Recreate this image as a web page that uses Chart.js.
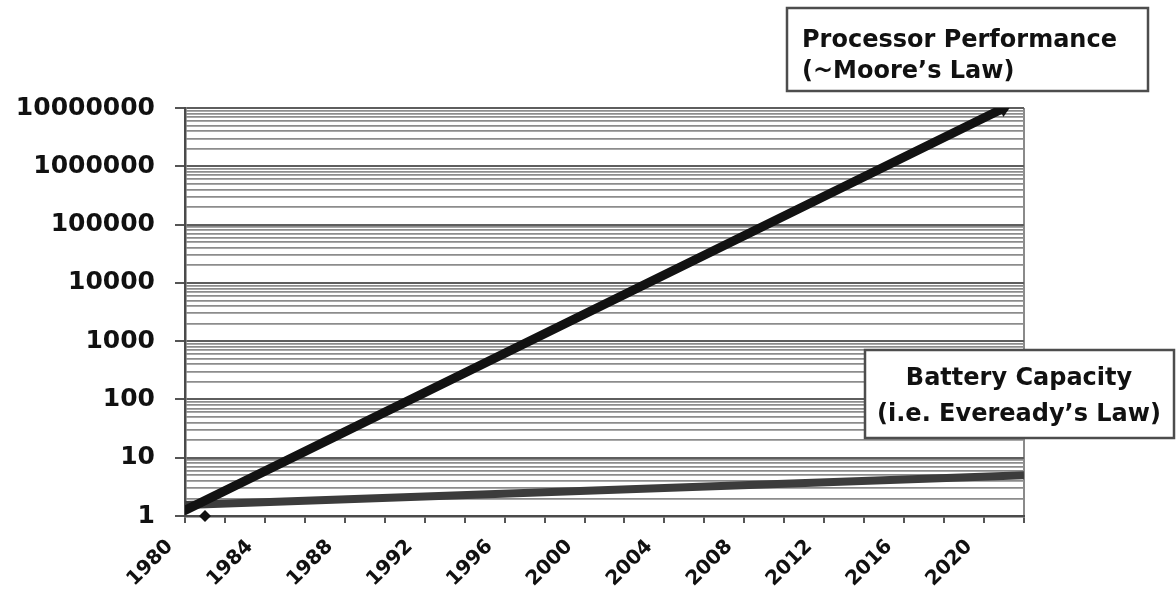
<!DOCTYPE html>
<html>
<head>
<meta charset="utf-8">
<script src="https://cdn.jsdelivr.net/npm/chart.js@4.4.1/dist/chart.umd.min.js"></script>
<style>
  html, body { margin: 0; padding: 0; background: #ffffff; }
  canvas { display: block; }
</style>
</head>
<body>
<canvas id="chart" width="1176" height="594"></canvas>
<script>
// Processor performance (~Moore's Law), relative to 1980
const processorYears = [1980, 2021];
const processorPerformance = [1.25, 1.0e7];

// Battery capacity (i.e. Eveready's Law), relative to 1980
const batteryYears = [1980, 2022];
const batteryCapacity = [1.55, 5.0];

// Single battery reference marker
const batteryMarkerYears = [1981];
const batteryMarkerValues = [1];

// Axis ticks and labels
const yearTicks = [1980, 1982, 1984, 1986, 1988, 1990, 1992, 1994, 1996, 1998, 2000,
                   2002, 2004, 2006, 2008, 2010, 2012, 2014, 2016, 2018, 2020, 2022];
const yearLabels = [1980, 1984, 1988, 1992, 1996, 2000, 2004, 2008, 2012, 2016, 2020];
const decadeLabels = ['1', '10', '100', '1000', '10000', '100000', '1000000', '10000000'];
const gridMultiples = [1, 2, 3, 4, 5, 6, 7, 8, 9];

// Callout texts
const processorNote = ['Processor Performance', '(~Moore\u2019s Law)'];
const batteryNote = ['Battery Capacity', '(i.e. Eveready\u2019s Law)'];

const decadeValues = decadeLabels.map(Number);
const yGridValues = [];
decadeValues.forEach((d, i) => {
  if (i === decadeValues.length - 1) { yGridValues.push(d); return; }
  gridMultiples.forEach(m => yGridValues.push(m * d));
});

const FONT = "'DejaVu Sans', 'Liberation Sans', sans-serif";
const isDecade = v => decadeValues.includes(v);

// Boxed callouts drawn over the plot
const calloutPlugin = {
  id: 'callouts',
  afterDraw(chart) {
    const ctx = chart.ctx;
    const drawBox = (box, lines, align, tx, baselines) => {
      ctx.save();
      ctx.fillStyle = '#ffffff';
      ctx.fillRect(box.x, box.y, box.w, box.h);
      ctx.strokeStyle = '#4d4d4d';
      ctx.lineWidth = 2.5;
      ctx.strokeRect(box.x, box.y, box.w, box.h);
      ctx.fillStyle = '#111111';
      ctx.font = 'bold 24px ' + FONT;
      ctx.textAlign = align;
      ctx.textBaseline = 'alphabetic';
      lines.forEach((t, i) => ctx.fillText(t, tx, baselines[i]));
      ctx.restore();
    };
    drawBox({x: 787, y: 8, w: 361, h: 83}, processorNote, 'left', 802, [47, 78]);
    drawBox({x: 865, y: 350, w: 309, h: 88}, batteryNote, 'center', 1019, [385, 421]);
  }
};

const pts = (xs, ys) => xs.map((x, i) => ({x, y: ys[i]}));

new Chart(document.getElementById('chart'), {
  type: 'line',
  data: {
    datasets: [
      {
        label: processorNote.join(' '),
        data: pts(processorYears, processorPerformance),
        borderColor: '#121212',
        backgroundColor: '#121212',
        borderWidth: 9,
        borderCapStyle: 'round',
        pointRadius: [0, 9],
        pointStyle: 'triangle',
        pointRotation: [0, 64],
        pointBorderWidth: 0,
        pointBackgroundColor: '#121212',
        tension: 0
      },
      {
        label: batteryNote.join(' '),
        data: pts(batteryYears, batteryCapacity),
        borderColor: '#3c3c3c',
        backgroundColor: '#3c3c3c',
        borderWidth: 8,
        pointRadius: 0,
        tension: 0
      },
      {
        label: 'Battery marker',
        data: pts(batteryMarkerYears, batteryMarkerValues),
        showLine: false,
        pointStyle: 'rectRot',
        pointRadius: 6,
        pointBorderWidth: 0,
        pointBackgroundColor: '#111111',
        clip: false
      }
    ]
  },
  options: {
    responsive: false,
    animation: false,
    events: [],
    layout: { padding: { left: 0, right: 152, top: 108, bottom: 0 } },
    plugins: { legend: { display: false }, tooltip: { enabled: false }, title: { display: false } },
    scales: {
      x: {
        type: 'linear',
        min: 1980,
        max: 2022,
        afterBuildTicks: s => { s.ticks = yearTicks.map(v => ({value: v})); },
        afterFit: s => { s.height = 78; },
        grid: {
          drawOnChartArea: true,
          color: c => (c.tick && c.tick.value === 2022) ? '#8a8a8a' : 'rgba(0,0,0,0)',
          lineWidth: 2,
          tickLength: 7,
          tickColor: '#555555',
          tickWidth: 2
        },
        border: { color: '#4a4a4a', width: 2.5 },
        ticks: {
          autoSkip: false,
          minRotation: 45,
          maxRotation: 45,
          padding: 12,
          labelOffset: -15,
          color: '#111111',
          font: { family: FONT, size: 20, weight: 'bold' },
          callback: v => yearLabels.includes(v) ? String(v) : ''
        }
      },
      y: {
        type: 'logarithmic',
        min: 1,
        max: 1e7,
        afterBuildTicks: s => { s.ticks = yGridValues.map(v => ({value: v, major: isDecade(v)})); },
        afterFit: s => { s.width = 185; },
        grid: {
          color: c => (c.tick && isDecade(c.tick.value)) ? '#5e5e5e' : '#8c8c8c',
          lineWidth: c => (c.tick && isDecade(c.tick.value)) ? 2 : 1.8,
          tickLength: 10,
          tickColor: c => (c.tick && isDecade(c.tick.value)) ? '#555555' : 'rgba(0,0,0,0)',
          tickWidth: 2
        },
        border: { color: '#4a4a4a', width: 2.5 },
        ticks: {
          autoSkip: false,
          padding: 20,
          color: '#111111',
          font: { family: FONT, size: 25, weight: 'bold' },
          callback: v => {
            const i = decadeValues.indexOf(v);
            return i >= 0 ? decadeLabels[i] : '';
          }
        }
      }
    }
  },
  plugins: [calloutPlugin]
});
</script>
</body>
</html>
